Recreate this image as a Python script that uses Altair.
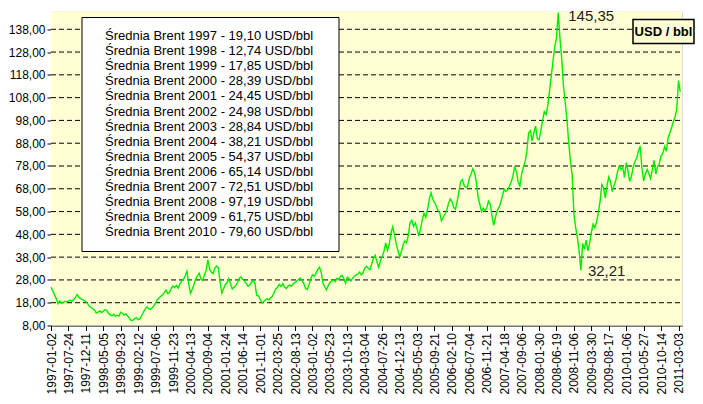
import altair as alt
import pandas as pd

FONT = "Liberation Sans"

tick_labels = [
    "1997-01-02", "1997-07-24", "1997-12-11", "1998-05-05", "1998-09-23", "1999-02-12",
    "1999-07-06", "1999-11-23", "2000-04-13", "2000-09-04", "2001-01-24", "2001-06-14",
    "2001-11-01", "2002-03-25", "2002-08-13", "2003-01-02", "2003-05-23", "2003-10-13",
    "2004-03-04", "2004-07-26", "2004-12-13", "2005-05-03", "2005-09-21", "2006-02-10",
    "2006-07-04", "2006-11-21", "2007-04-18", "2007-09-06", "2008-01-30", "2008-06-19",
    "2008-11-06", "2009-03-30", "2009-08-17", "2010-01-06", "2010-05-27", "2010-10-14",
    "2011-03-03",
]
y_ticks = [8, 18, 28, 38, 48, 58, 68, 78, 88, 98, 108, 118, 128, 138]
tick_step = 100   # trading days between labelled ticks
sample_step = 10  # trading days between samples below

brent = [
    24.8, 23.2, 21.5, 19.8, 17.6, 18.8, 17.8, 18.2, 18.6, 18.3,
    18.8, 19.2, 18.6, 19.4, 20.2, 21.6, 20.4, 19.8, 19.4, 19.0,
    18.4, 17.6, 16.4, 15.9, 15.3, 14.8, 13.5, 13.9, 14.4, 13.7,
    14.3, 15.0, 14.6, 13.4, 12.6, 12.3, 12.9, 12.0, 12.5, 12.1,
    13.8, 13.4, 12.6, 13.1, 12.2, 11.2, 10.1, 10.4, 11.0, 11.4,
    10.6, 10.9, 12.4, 13.8, 15.2, 16.2, 15.4, 15.1, 15.8, 16.6,
    17.8, 19.3, 20.1, 20.8, 21.5, 22.4, 23.5, 22.0, 22.6, 24.3,
    25.3, 24.7, 25.6, 24.4, 26.4, 27.6, 28.3, 29.8, 31.8, 26.4,
    22.2, 23.8, 25.9, 28.4, 29.8, 31.0, 28.4, 27.7, 30.2, 32.1,
    36.8, 32.8, 31.4, 30.8, 33.2, 34.1, 33.4, 27.1, 22.2, 24.1,
    26.0, 26.8, 28.5, 26.2, 24.0, 24.8, 25.5, 27.0, 28.8, 29.3,
    28.2, 27.5, 26.5, 25.2, 25.8, 27.0, 27.8, 26.5, 21.2, 21.0,
    19.5, 17.8, 18.5, 19.2, 19.8, 19.2, 20.2, 20.8, 22.5, 24.2,
    24.8, 26.0, 25.2, 26.4, 24.8, 24.2, 25.3, 25.8, 25.2, 26.4,
    26.8, 27.5, 28.2, 28.8, 27.8, 26.5, 24.2, 23.8, 25.8, 28.5,
    30.2, 29.6, 31.0, 32.5, 33.6, 31.5, 26.5, 25.0, 23.6, 25.5,
    26.8, 27.5, 27.9, 27.2, 28.6, 28.2, 29.5, 30.0, 28.5, 26.5,
    29.2, 28.5, 27.5, 28.8, 29.5, 30.2, 30.6, 31.4, 30.2, 31.0,
    33.2, 34.0, 33.1, 32.5, 35.0, 37.5, 38.8, 36.0, 33.5, 36.5,
    38.2, 40.5, 44.2, 41.0, 43.5, 48.5, 51.2, 48.2, 44.0, 41.0,
    38.0, 40.5, 43.2, 45.2, 44.3, 47.5, 53.2, 54.2, 51.5, 53.0,
    50.5, 47.2, 50.5, 54.5, 57.2, 55.5, 58.8, 63.5, 66.2, 63.5,
    62.0, 60.5, 58.5, 57.5, 54.0, 55.5, 56.8, 58.5, 61.5, 63.5,
    62.5, 59.8, 59.0, 62.5, 66.5, 71.2, 72.0, 69.5, 68.5, 69.0,
    72.8, 74.5, 76.8, 75.0, 71.0, 64.5, 61.2, 58.0, 59.5, 58.2,
    59.8, 62.5, 61.2, 56.0, 52.0, 55.5, 58.5, 59.8, 62.0, 65.0,
    67.8, 66.8, 67.5, 69.2, 71.0, 73.5, 77.8, 75.5, 71.0, 69.2,
    74.5, 77.5, 79.8, 84.5, 92.5, 93.5, 89.0, 92.5, 95.5, 90.0,
    89.5, 93.5, 98.0, 101.8, 100.5, 104.5, 111.0, 117.5, 124.0, 130.5,
    134.0, 145.35, 134.0, 125.0, 113.0, 106.0, 98.0, 88.5, 80.0, 74.0,
    57.0, 51.0, 46.5, 40.5, 32.21, 44.0, 41.5, 45.5, 40.8, 44.0,
    49.0, 52.5, 51.0, 53.5, 57.5, 62.5, 69.8, 68.5, 64.0, 69.5,
    73.2, 71.0, 66.8, 69.5, 71.5, 75.5, 78.0, 76.5, 77.5, 73.0,
    79.5, 76.0, 71.2, 73.5, 77.5, 80.0, 81.5, 84.5, 86.8, 77.0,
    71.5, 74.5, 76.5, 74.8, 72.5, 76.5, 80.5, 74.5, 77.8, 79.0,
    82.5, 83.5, 86.5, 84.5, 90.2, 92.5, 94.8, 97.5, 99.5, 103.0,
    115.5, 110.5,
]

years = list(range(1997, 2011))
averages = ["19,10", "12,74", "17,85", "28,39", "24,45", "24,98", "28,84",
            "38,21", "54,37", "65,14", "72,51", "97,19", "61,75", "79,60"]
unit_label = "USD / bbl"

df = pd.DataFrame({"idx": [i * sample_step for i in range(len(brent))], "usd": brent})
pk_i = df["usd"].idxmax()
pk = df.loc[pk_i]
after = df.loc[pk_i:]
lo = df.loc[after["usd"].idxmin()]  # post-peak (2008) low
fmt = lambda v: f"{v:.2f}".replace(".", ",")
peak_df = pd.DataFrame({"idx": [pk["idx"]], "usd": [pk["usd"]], "label": [fmt(pk["usd"])]})
low_df = pd.DataFrame({"idx": [lo["idx"]], "usd": [lo["usd"]], "label": [fmt(lo["usd"])]})
grid_df = pd.DataFrame({"usd": y_ticks[1:]})

n_ticks = len(tick_labels)
x_max = (n_ticks - 1) * tick_step + 20
xscale = alt.Scale(domain=[0, x_max], nice=False, zero=False)
yscale = alt.Scale(domain=[8, 145.8], nice=False, zero=False)

label_arr = "[" + ",".join(f"'{d}'" for d in tick_labels) + "]"

x_axis = alt.Axis(
    values=[i * tick_step for i in range(n_ticks)],
    labelExpr=label_arr + "[round(datum.value/" + str(tick_step) + ")]",
    labelAngle=-90, labelAlign="right", labelBaseline="middle",
    labelFontSize=12, labelFont=FONT, labelColor="black",
    tickColor="black", tickSize=5, domainColor="black", grid=False,
    title=None, labelPadding=2, labelOverlap=False, labelFlush=False,
)
y_axis = alt.Axis(
    values=y_ticks,
    labelExpr="replace(format(datum.value, '.2f'), '.', ',')",
    grid=False,
    tickSize=4, tickColor="black", domainColor="black",
    labelPadding=2, labelFontSize=12, labelFont=FONT, labelColor="black",
    title=None, labelFlush=False, labelOverlap=False,
)

X = lambda: alt.X("idx:Q", scale=xscale, axis=x_axis)
Y = lambda: alt.Y("usd:Q", scale=yscale, axis=y_axis)

W, H = 631, 314
one = pd.DataFrame({"a": [0]})

plot_bg = alt.Chart(one).mark_rect(fill="#FFFFD3").encode(
    x=alt.value(0), x2=alt.value(W), y=alt.value(0), y2=alt.value(H)
)

grid = alt.Chart(grid_df).mark_rule(color="black", strokeWidth=1, strokeDash=[5, 3]).encode(
    y=Y(), x=alt.value(0), x2=alt.value(W)
)

line = alt.Chart(df).mark_line(color="#00EE00", strokeWidth=1.4).encode(x=X(), y=Y())

peak_txt = alt.Chart(peak_df).mark_text(
    align="left", baseline="middle", dx=10, dy=3, fontSize=15, font=FONT, color="#222222"
).encode(x=X(), y=Y(), text="label:N")

low_txt = alt.Chart(low_df).mark_text(
    align="left", baseline="middle", dx=7, dy=1, fontSize=15, font=FONT, color="#222222"
).encode(x=X(), y=Y(), text="label:N")

lines = [f"Średnia Brent {y} - {a} USD/bbl" for y, a in zip(years, averages)]

legend_box = alt.Chart(one).mark_rect(fill="white", stroke="black", strokeWidth=1).encode(
    x=alt.value(31), x2=alt.value(288), y=alt.value(6), y2=alt.value(240)
)
legend_text = alt.Chart(one).mark_text(
    align="left", baseline="top", fontSize=13, lineHeight=15.1, font=FONT, color="black"
).encode(x=alt.value(54), y=alt.value(18.5), text=alt.value(lines))

unit_box = alt.Chart(one).mark_rect(fill="#FFFFD3", stroke="black", strokeWidth=1.5).encode(
    x=alt.value(582), x2=alt.value(643), y=alt.value(8), y2=alt.value(32)
)
unit_text = alt.Chart(one).mark_text(
    align="center", baseline="middle", fontSize=13, fontWeight="bold", font=FONT, color="black"
).encode(x=alt.value(612.5), y=alt.value(20.5), text=alt.value(unit_label))

chart = alt.layer(
    plot_bg, grid, line, peak_txt, low_txt, legend_box, legend_text, unit_box, unit_text
).properties(
    width=W, height=H,
    autosize=alt.AutoSizeParams(type="none"),
    padding={"left": 43, "top": 3.5, "right": 13, "bottom": 70},
    background="white",
).configure_view(
    stroke="#808080", strokeWidth=1
).configure(font=FONT)

chart.save("out.html", embed_options={"renderer": "svg", "actions": False})
